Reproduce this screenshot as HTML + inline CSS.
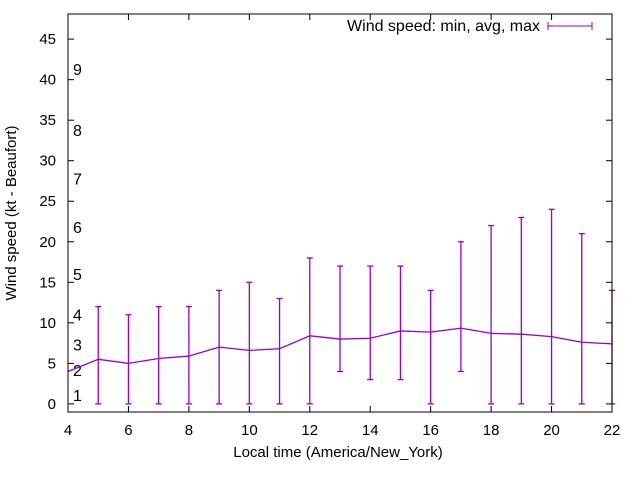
<!DOCTYPE html>
<html><head><meta charset="utf-8"><style>
body{margin:0;background:#fff}
svg{font-family:"Liberation Sans",sans-serif;font-size:15px}
</style></head><body>
<svg id="chart" width="640" height="480" xmlns="http://www.w3.org/2000/svg">
<g id="axes"></g>
<g id="marks"></g>
<g id="legend">
<text x="540" y="31" text-anchor="end" style="font-size:16px">Wind speed: min, avg, max</text>
<line x1="548" y1="26" x2="592" y2="26" stroke="#9400d3"/>
<line x1="548" y1="22" x2="548" y2="30" stroke="#9400d3"/>
<line x1="592" y1="22" x2="592" y2="30" stroke="#9400d3"/>
</g>
<text x="338" y="457" text-anchor="middle">Local time (America/New_York)</text>
<text transform="translate(16,213) rotate(-90)" text-anchor="middle">Wind speed (kt - Beaufort)</text>
</svg>
<script>
const hours=[4,5,6,7,8,9,10,11,12,13,14,15,16,17,18,19,20,21,22];
const avgs=[4.0,5.5,5.0,5.6,5.9,7.0,6.6,6.8,8.4,8.0,8.1,9.0,8.85,9.35,8.7,8.6,8.3,7.6,7.4];
const mins=[null,0,0,0,0,0,0,0,0,4,3,3,0,4,0,0,0,0,0];
const maxs=[null,12,11,12,12,14,15,13,18,17,17,17,14,20,22,23,24,21,14];
const xTicks=[4,6,8,10,12,14,16,18,20,22];
const yTicks=[0,5,10,15,20,25,30,35,40,45];
const bfLabels=["1","2","3","4","5","6","7","8","9"];
const bfValues=[1.1,4.2,7.3,11,16,21.8,27.8,33.8,41.3];
const L=68,R=612,T=14,B=412,X0=4,X1=22,Y0=-1,Y1=48.1;
const sx=v=>L+(v-X0)/(X1-X0)*(R-L);
const sy=v=>B-(v-Y0)/(Y1-Y0)*(B-T);
const NS="http://www.w3.org/2000/svg";
function mk(tag,attrs,parent,txt){const e=document.createElementNS(NS,tag);for(const k in attrs)e.setAttribute(k,attrs[k]);if(txt!=null)e.textContent=txt;parent.appendChild(e);return e;}
const ax=document.getElementById('axes'),mg=document.getElementById('marks');
xTicks.forEach(t=>{const x=sx(t);
 const a=mk('line',{x1:x,y1:B,x2:x,y2:B-6,stroke:'#000'},ax);
 
 
 const b=mk('line',{x1:x,y1:T,x2:x,y2:T+6,stroke:'#000'},ax);
 
 
 const l=mk('text',{x:x,y:B+23,'text-anchor':'middle'},ax,t);
 
 });
yTicks.forEach(t=>{const y=sy(t);
 const a=mk('line',{x1:L,y1:y,x2:L+6,y2:y,stroke:'#000'},ax);
 
 
 const b=mk('line',{x1:R,y1:y,x2:R-6,y2:y,stroke:'#000'},ax);
 
 
 const l=mk('text',{x:L-12,y:y+5,'text-anchor':'end'},ax,t);
 
 });
bfLabels.forEach((s,i)=>{const l=mk('text',{x:73,y:sy(bfValues[i])+6,style:'font-size:16px'},ax,s);
 
 });
const c='#9400d3';
hours.forEach((h,i)=>{if(mins[i]==null)return;const x=sx(h);
 const v=mk('line',{x1:x,y1:sy(mins[i]),x2:x,y2:sy(maxs[i]),stroke:c,'stroke-width':1.3},mg);
 
 
 [mins[i],maxs[i]].forEach(m=>{const t=mk('line',{x1:x-3,y1:sy(m),x2:x+3,y2:sy(m),stroke:c,'stroke-width':1.3},mg);
  
  });});
const p=mk('polyline',{points:hours.map((h,i)=>sx(h)+','+sy(avgs[i])).join(' '),fill:'none',stroke:c,'stroke-width':1.3},mg);


const fr=mk('rect',{x:L,y:T,width:R-L,height:B-T,fill:'none',stroke:'#000'},ax.parentNode);


</script>
</body></html>
